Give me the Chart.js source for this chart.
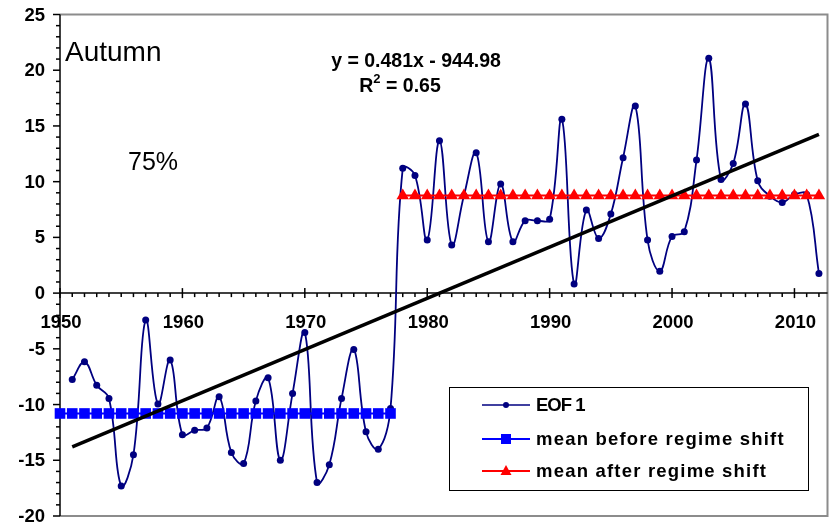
<!DOCTYPE html>
<html>
<head>
<meta charset="utf-8">
<script src="https://cdn.jsdelivr.net/npm/chart.js@4.4.1/dist/chart.umd.min.js"></script>
<style>
  html, body { margin: 0; padding: 0; background: #fff; }
  #wrap { width: 835px; height: 525px; }
</style>
</head>
<body>
<div id="wrap"><canvas id="chart" width="835" height="525"></canvas></div>
<script>
// EOF 1 series (autumn)
const years = [1951, 1952, 1953, 1954, 1955, 1956, 1957, 1958, 1959, 1960,
  1961, 1962, 1963, 1964, 1965, 1966, 1967, 1968, 1969, 1970,
  1971, 1972, 1973, 1974, 1975, 1976, 1977, 1978, 1979, 1980,
  1981, 1982, 1983, 1984, 1985, 1986, 1987, 1988, 1989, 1990,
  1991, 1992, 1993, 1994, 1995, 1996, 1997, 1998, 1999, 2000,
  2001, 2002, 2003, 2004, 2005, 2006, 2007, 2008, 2009, 2010,
  2011, 2012];
const eofValues = [-7.75, -6.17, -8.26, -9.45, -17.3, -14.5, -2.42, -9.96, -6.01, -12.7,
  -12.3, -12.1, -9.31, -14.3, -15.3, -9.67, -7.6, -15.0, -9.0, -3.53,
  -17.0, -15.4, -9.45, -5.05, -12.45, -14.0, -10.35, 11.2, 10.55, 4.76,
  13.67, 4.31, 8.75, 12.6, 4.6, 9.78, 4.6, 6.49, 6.49, 6.62,
  15.6, 0.81, 7.45, 4.91, 7.09, 12.15, 16.8, 4.76, 1.97, 5.09,
  5.5, 11.94, 21.07, 10.2, 11.64, 16.97, 10.08, 8.7, 8.14, 8.85,
  8.85, 1.77];

// regime means
const beforeYears = [1950, 1951, 1952, 1953, 1954, 1955, 1956, 1957, 1958, 1959,
  1960, 1961, 1962, 1963, 1964, 1965, 1966, 1967, 1968, 1969,
  1970, 1971, 1972, 1973, 1974, 1975, 1976, 1977];
const afterYears = [1978, 1979, 1980, 1981, 1982, 1983, 1984, 1985, 1986, 1987,
  1988, 1989, 1990, 1991, 1992, 1993, 1994, 1995, 1996, 1997,
  1998, 1999, 2000, 2001, 2002, 2003, 2004, 2005, 2006, 2007,
  2008, 2009, 2010, 2011, 2012];
const meanBefore = -10.8;
const meanAfter = 8.75;

// linear trend end points
const trendYears = [1951, 2012];
const trendValues = [-13.8, 14.25];

const xTicks = [1950, 1960, 1970, 1980, 1990, 2000, 2010];
const yTicks = [-20, -15, -10, -5, 0, 5, 10, 15, 20, 25];

const FONT = "'Liberation Sans', Arial, sans-serif";
const NAVY = '#000080';
const BLUE = '#0000ff';
const RED = '#ff0000';

function seg(ctx, x1, y1, x2, y2) {
  ctx.beginPath();
  ctx.moveTo(x1, y1);
  ctx.lineTo(x2, y2);
  ctx.stroke();
}

// axes, border and text drawn by hand (x axis crosses at y = 0)
const chartDecor = {
  id: 'chartDecor',
  beforeDatasetsDraw(chart) {
    const { ctx, chartArea: a, scales: { x, y } } = chart;
    ctx.save();

    // grey plot border
    ctx.strokeStyle = '#8c8c8c';
    ctx.lineWidth = 2;
    ctx.beginPath();
    ctx.moveTo(a.left, a.top);
    ctx.lineTo(a.right, a.top);
    ctx.lineTo(a.right, a.bottom);
    ctx.lineTo(a.left, a.bottom);
    ctx.stroke();

    ctx.strokeStyle = '#000';
    ctx.lineWidth = 1.5;

    // y axis
    seg(ctx, a.left, a.top, a.left, a.bottom);
    for (let v = -20; v <= 25; v++) {
      const py = y.getPixelForValue(v);
      seg(ctx, a.left - (v % 5 === 0 ? 7 : 4), py, a.left, py);
    }

    // x axis at zero
    const y0 = y.getPixelForValue(0);
    seg(ctx, a.left, y0, a.right, y0);
    for (let yr = 1950; yr <= 2012; yr++) {
      const px = x.getPixelForValue(yr);
      if (yr % 10 === 0) seg(ctx, px, y0 - 5, px, y0 + 5);
      else seg(ctx, px, y0, px, y0 + 4);
    }

    ctx.fillStyle = '#000';
    ctx.font = 'bold 18.5px ' + FONT;
    ctx.textAlign = 'right';
    ctx.textBaseline = 'middle';
    yTicks.forEach(v => ctx.fillText(String(v), 45, y.getPixelForValue(v) + 1));

    ctx.textAlign = 'center';
    ctx.textBaseline = 'top';
    xTicks.forEach(v => ctx.fillText(String(v), x.getPixelForValue(v) + 1, y0 + 21));

    // annotations
    ctx.textBaseline = 'alphabetic';
    ctx.textAlign = 'left';
    ctx.font = '28px ' + FONT;
    ctx.fillText('Autumn', 65, 61);
    ctx.font = '25px ' + FONT;
    ctx.fillText('75%', 128, 170);

    ctx.textAlign = 'center';
    ctx.font = 'bold 19.5px ' + FONT;
    ctx.fillText('y = 0.481x - 944.98', 416, 67);

    // R^2 = 0.65 with superscript
    const rW = ctx.measureText('R').width;
    const restW = ctx.measureText(' = 0.65').width;
    ctx.font = 'bold 13px ' + FONT;
    const sW = ctx.measureText('2').width;
    const startX = 400 - (rW + sW + restW) / 2;
    ctx.textAlign = 'left';
    ctx.font = 'bold 19.5px ' + FONT;
    ctx.fillText('R', startX, 92);
    ctx.fillText(' = 0.65', startX + rW + sW, 92);
    ctx.font = 'bold 13px ' + FONT;
    ctx.fillText('2', startX + rW, 83);

    ctx.restore();
  },
  afterDatasetsDraw(chart) {
    const { ctx } = chart;
    ctx.save();
    // legend box
    ctx.fillStyle = '#fff';
    ctx.fillRect(449.5, 387.5, 359, 103);
    ctx.strokeStyle = '#000';
    ctx.lineWidth = 1;
    ctx.strokeRect(449.5, 387.5, 359, 103);

    const rows = [
      { label: 'EOF 1', color: NAVY, marker: 'circle', y: 405, spacing: '-1px' },
      { label: 'mean before regime shift', color: BLUE, marker: 'rect', y: 439, spacing: '1.2px' },
      { label: 'mean after regime shift', color: RED, marker: 'triangle', y: 471, spacing: '1.2px' }
    ];
    rows.forEach(r => {
      ctx.strokeStyle = r.color;
      ctx.fillStyle = r.color;
      ctx.lineWidth = r.marker === 'circle' ? 1.5 : 2;
      seg(ctx, 482, r.y, 530, r.y);
      ctx.beginPath();
      if (r.marker === 'circle') {
        ctx.arc(506, r.y, 3, 0, Math.PI * 2);
      } else if (r.marker === 'rect') {
        ctx.rect(501, r.y - 5, 10, 10);
      } else {
        ctx.moveTo(506, r.y - 6);
        ctx.lineTo(511.5, r.y + 4);
        ctx.lineTo(500.5, r.y + 4);
        ctx.closePath();
      }
      ctx.fill();

      ctx.fillStyle = '#000';
      ctx.font = 'bold 18.5px ' + FONT;
      ctx.textAlign = 'left';
      ctx.textBaseline = 'middle';
      ctx.letterSpacing = r.spacing;
      ctx.fillText(r.label, 536, r.y + 1);
    });
    ctx.letterSpacing = '0px';
    ctx.restore();
  }
};

const eofPoints = years.map((yr, i) => ({ x: yr, y: eofValues[i] }));
const beforePoints = beforeYears.map(yr => ({ x: yr, y: meanBefore }));
const afterPoints = afterYears.map(yr => ({ x: yr, y: meanAfter }));
const trendPoints = trendYears.map((yr, i) => ({ x: yr, y: trendValues[i] }));

new Chart(document.getElementById('chart'), {
  type: 'line',
  data: {
    datasets: [
      {
        label: 'EOF 1',
        data: eofPoints,
        borderColor: NAVY,
        backgroundColor: NAVY,
        borderWidth: 1.8,
        pointRadius: 3.5,
        pointBorderWidth: 0,
        tension: 0.4,
        clip: false,
        order: 4
      },
      {
        label: 'mean before regime shift',
        data: beforePoints,
        borderColor: BLUE,
        backgroundColor: BLUE,
        borderWidth: 2,
        pointStyle: 'rect',
        pointRadius: 7.5,
        pointBorderWidth: 0,
        clip: false,
        order: 3
      },
      {
        label: 'mean after regime shift',
        data: afterPoints,
        borderColor: RED,
        backgroundColor: RED,
        borderWidth: 2,
        pointStyle: 'triangle',
        pointRadius: 7.2,
        pointBorderWidth: 0,
        clip: false,
        order: 2
      },
      {
        label: 'trend',
        data: trendPoints,
        borderColor: '#000',
        borderWidth: 3.5,
        pointRadius: 0,
        clip: false,
        order: 1
      }
    ]
  },
  options: {
    responsive: false,
    animation: false,
    events: [],
    layout: { padding: { left: 60, top: 14.5, right: 4.3, bottom: 9 } },
    plugins: {
      legend: { display: false },
      tooltip: { enabled: false }
    },
    scales: {
      x: { type: 'linear', min: 1950, max: 2012.7, display: false },
      y: { type: 'linear', min: -20, max: 25, display: false }
    }
  },
  plugins: [chartDecor]
});
</script>
</body>
</html>
